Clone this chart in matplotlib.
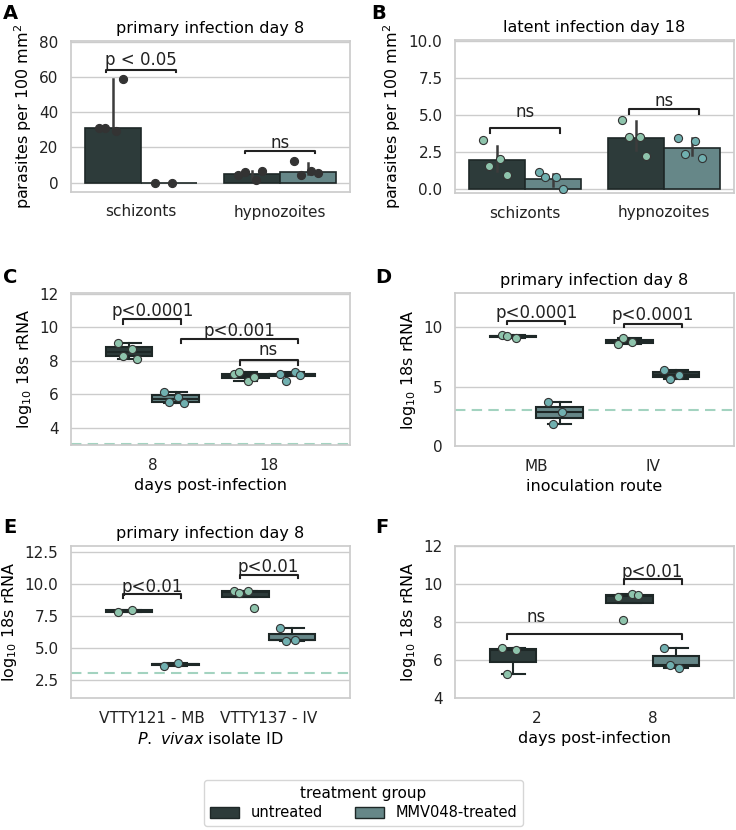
import numpy as np
import matplotlib.pyplot as plt
from matplotlib.patches import Patch

plt.rcParams['font.family'] = ['DejaVu Sans']
plt.rcParams['font.size'] = 11

# ---- data ----
# A: primary infection day 8, parasites per 100 mm2
stages = ['schizonts', 'hypnozoites']
a_untreated = [[31.0, 29.0, 31.0, 59.0], [4.1, 1.5, 6.0, 6.6]]
a_treated = [[0.0, 0.0], [12.0, 6.6, 4.1, 5.3]]
a_bar_untreated = [30.7, 4.9]
a_bar_treated = [0.0, 6.0]
a_err_untreated = [(29.5, 58.8), (2.3, 6.6)]
a_err_treated = [(0.0, 0.0), (5.0, 11.3)]

# B: latent infection day 18
b_untreated = [[3.3, 2.0, 1.5, 0.9], [4.65, 3.5, 3.5, 2.2]]
b_treated = [[1.1, 0.8, 0.8, 0.0], [3.45, 3.2, 2.35, 2.1]]
b_bar_untreated = [1.93, 3.46]
b_bar_treated = [0.68, 2.78]
b_err_untreated = [(1.2, 2.9), (2.6, 4.6)]
b_err_treated = [(0.2, 1.0), (2.3, 3.4)]

# C: log10 18s rRNA by day post-infection
c_days = ['8', '18']
c_untreated = [[9.05, 8.7, 8.3, 8.1], [7.2, 6.8, 7.3, 7.0]]
c_treated = [[6.15, 5.85, 5.55, 5.45], [7.2, 7.3, 6.8, 7.15]]

# D: inoculation route
d_routes = ['MB', 'IV']
d_untreated = [[9.35, 9.1, 9.25], [8.6, 8.75, 9.1]]
d_treated = [[3.7, 2.9, 1.85], [6.4, 6.0, 5.65]]

# E: isolate
e_isolates = ['VTTY121 - MB', 'VTTY137 - IV']
e_untreated = [[7.8, 8.0], [9.5, 9.45, 9.3, 8.1]]
e_treated = [[3.6, 3.8], [6.6, 5.65, 5.55]]

# F: days post-infection
f_days = ['2', '8']
f_untreated = [[6.65, 6.55, 5.25], [9.3, 9.5, 8.1, 9.4]]
f_treated = [None, [6.65, 5.6, 5.75]]

lod = 3.0

# ---- style ----
c_unt = '#2d3b3a'
c_trt = '#668788'
p_unt = '#8ec4ac'
p_trt = '#70b0b0'
edge = '#1e2827'
grid_c = '#cccccc'
W, H = 736, 830


def make_ax(fig, l, t, r, b):
    ax = fig.add_axes([l / W, 1 - b / H, (r - l) / W, (b - t) / H])
    for s in ax.spines.values():
        s.set_color(grid_c)
        s.set_linewidth(1.25)
    ax.grid(axis='y', color=grid_c, lw=1.0)
    ax.set_axisbelow(True)
    ax.tick_params(length=0, pad=9, labelsize=11, colors='#222222')
    return ax


def jitter(n):
    return ((np.arange(n) * 0.618) % 1 - 0.5) * 0.2


def strip(ax, x, vals, color, ec='#333333'):
    vals = np.asarray(vals)
    ax.scatter(x + jitter(len(vals)), vals, s=34, color=color,
               edgecolor=ec, linewidth=0.8, zorder=5)


def bars(ax, heights_u, heights_t, err_u, err_t, pts_u, pts_t, pc_u, pc_t):
    x = np.arange(len(heights_u))
    ax.bar(x - 0.2, heights_u, 0.4, color=c_unt, edgecolor=edge, lw=1.2, zorder=2)
    ax.bar(x + 0.2, heights_t, 0.4, color=c_trt, edgecolor=edge, lw=1.2, zorder=2)
    for i in x:
        ax.plot([i - 0.2] * 2, err_u[i], color='#3c3c3c', lw=1.8, zorder=3)
        ax.plot([i + 0.2] * 2, err_t[i], color='#3c3c3c', lw=1.8, zorder=3)
        strip(ax, i - 0.2, pts_u[i], pc_u)
        strip(ax, i + 0.2, pts_t[i], pc_t)
    ax.set_xlim(-0.5, 1.5)


def boxes(ax, vals_u, vals_t, fc_t=(c_trt, c_trt)):
    props = dict(widths=0.4, patch_artist=True, showfliers=False, capwidths=0.2,
                 whiskerprops=dict(color=edge, lw=1.5), capprops=dict(color=edge, lw=1.5),
                 medianprops=dict(color=edge, lw=1.5))
    for i, (vu, vt) in enumerate(zip(vals_u, vals_t)):
        for v, off, fc, pc in [(vu, -0.2, c_unt, p_unt), (vt, 0.2, fc_t[i], p_trt)]:
            if v is None:
                continue
            bp = ax.boxplot([v], positions=[i + off], **props)
            for bx in bp['boxes']:
                bx.set(facecolor=fc, edgecolor=edge, lw=1.5)
            strip(ax, i + off, v, pc)
    ax.set_xlim(-0.7, 1.7)


def bracket(ax, x1, x2, y, h, text, tx, ty):
    ax.plot([x1, x1, x2, x2], [y - h, y, y, y - h], color='#222222', lw=1.5, zorder=6)
    ax.text(tx, ty, text, ha='center', va='baseline', fontsize=12, color='#222222', zorder=7)


fig = plt.figure(figsize=(W / 100, H / 100), dpi=100)

ylab_area = 'parasites per 100 mm$^2$'
ylab_rna = 'log$_{10}$ 18s rRNA'

# A
ax = make_ax(fig, 71, 41, 350, 192)
bars(ax, a_bar_untreated, a_bar_treated, a_err_untreated, a_err_treated,
     a_untreated, a_treated, '#333333', '#333333')
ax.set_ylim(-5.3, 80.3)
ax.set_yticks([0, 20, 40, 60, 80])
ax.set_xticks([0, 1], stages)
ax.set_ylabel(ylab_area, fontsize=11.5)
ax.set_title('primary infection day 8', fontsize=11.5, pad=6)
bracket(ax, -0.25, 0.25, 64.0, 1.3, 'p < 0.05', 0, 66.8)
bracket(ax, 0.75, 1.25, 18.2, 1.5, 'ns', 1, 19.8)

# B
ax = make_ax(fig, 455, 40, 734, 193)
bars(ax, b_bar_untreated, b_bar_treated, b_err_untreated, b_err_treated,
     b_untreated, b_treated, p_unt, p_trt)
ax.set_ylim(-0.3, 10.07)
ax.set_yticks([0, 2.5, 5, 7.5, 10])
ax.set_yticklabels(['0.0', '2.5', '5.0', '7.5', '10.0'])
ax.set_xticks([0, 1], stages)
ax.set_ylabel(ylab_area, fontsize=11.5)
ax.set_title('latent infection day 18', fontsize=11.5, pad=6)
bracket(ax, -0.25, 0.25, 4.1, 0.3, 'ns', 0, 4.82)
bracket(ax, 0.75, 1.25, 5.38, 0.3, 'ns', 1, 5.59)

# C
ax = make_ax(fig, 71, 293, 350, 445)
boxes(ax, c_untreated, c_treated)
ax.axhline(lod, color='#a3d3c0', lw=1.5, ls=(0, (5, 3)), zorder=1)
ax.set_ylim(2.97, 12.03)
ax.set_yticks([4, 6, 8, 10, 12])
ax.set_xticks([0, 1], c_days)
ax.set_ylabel(ylab_rna, fontsize=11.5)
ax.set_xlabel('days post-infection', fontsize=11.5)
bracket(ax, -0.25, 0.25, 10.48, 0.28, 'p<0.0001', 0, 10.65)
bracket(ax, 0.25, 1.25, 9.3, 0.28, 'p<0.001', 0.75, 9.48)
bracket(ax, 0.75, 1.25, 8.04, 0.28, 'ns', 1, 8.34)

# D (the IV treated box is drawn dark in the original)
ax = make_ax(fig, 455, 293, 734, 446)
boxes(ax, d_untreated, d_treated, fc_t=(c_trt, c_unt))
ax.axhline(lod, color='#a3d3c0', lw=1.5, ls=(0, (5, 3)), zorder=1)
ax.set_ylim(0, 12.9)
ax.set_yticks([0, 5, 10])
ax.set_xticks([0, 1], d_routes)
ax.set_ylabel(ylab_rna, fontsize=11.5)
ax.set_xlabel('inoculation route', fontsize=11.5)
ax.set_title('primary infection day 8', fontsize=11.5, pad=6)
bracket(ax, -0.25, 0.25, 10.5, 0.25, 'p<0.0001', 0, 10.8)
bracket(ax, 0.75, 1.25, 10.27, 0.25, 'p<0.0001', 1, 10.6)

# E
ax = make_ax(fig, 71, 546, 350, 698)
boxes(ax, e_untreated, e_treated)
ax.axhline(lod, color='#a3d3c0', lw=1.5, ls=(0, (5, 3)), zorder=1)
ax.set_ylim(1.07, 13.0)
ax.set_yticks([2.5, 5, 7.5, 10, 12.5])
ax.set_yticklabels(['2.5', '5.0', '7.5', '10.0', '12.5'])
ax.set_xticks([0, 1], e_isolates)
ax.set_ylabel(ylab_rna, fontsize=11.5)
ax.set_xlabel(r'$\it{P.\ vivax}$ isolate ID', fontsize=11.5)
ax.set_title('primary infection day 8', fontsize=11.5, pad=6)
bracket(ax, -0.25, 0.25, 9.21, 0.28, 'p<0.01', 0, 9.4)
bracket(ax, 0.75, 1.25, 10.73, 0.28, 'p<0.01', 1, 10.96)

# F
ax = make_ax(fig, 455, 546, 734, 698)
boxes(ax, f_untreated, f_treated)
ax.set_ylim(4, 12)
ax.set_yticks([4, 6, 8, 10, 12])
ax.set_xticks([0, 1], f_days)
ax.set_ylabel(ylab_rna, fontsize=11.5)
ax.set_xlabel('days post-infection', fontsize=11.5)
bracket(ax, 0.75, 1.25, 10.24, 0.26, 'p<0.01', 1, 10.38)
bracket(ax, -0.25, 1.25, 7.36, 0.26, 'ns', 0, 8.0)

# panel letters
for lab, x, y in [('A', 3, 4), ('B', 371, 4), ('C', 3, 268), ('D', 375, 268),
                  ('E', 3, 518), ('F', 375, 518)]:
    fig.text(x / W, 1 - y / H, lab, fontsize=14, fontweight='bold', va='top', ha='left')

handles = [Patch(facecolor=c_unt, edgecolor=edge, label='untreated'),
           Patch(facecolor=c_trt, edgecolor=edge, label='MMV048-treated')]
fig.legend(handles=handles, title='treatment group', ncol=2, loc='lower center',
           bbox_to_anchor=(0.494, 0.003), borderaxespad=0.1, fontsize=10.5,
           title_fontsize=11, frameon=True, edgecolor=grid_c, handlelength=2.0,
           handleheight=0.8, columnspacing=2.2, labelspacing=0.3, borderpad=0.4)

fig.savefig('out.png', dpi=100)
